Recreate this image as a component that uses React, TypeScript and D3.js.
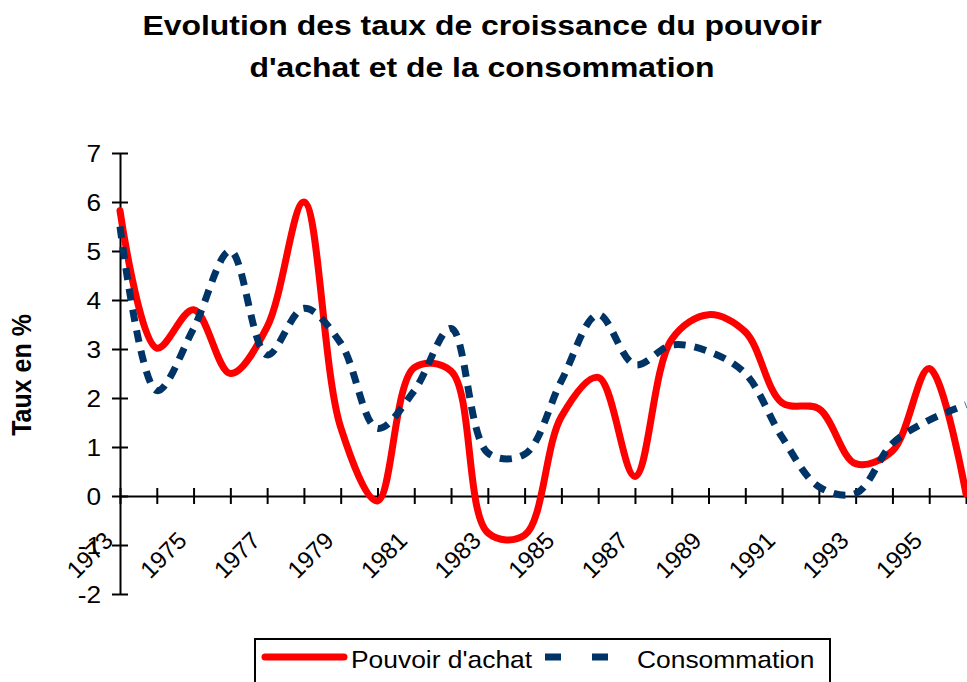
import React, { useEffect, useRef } from "react";
import * as d3 from "d3";

const W = 967,
  H = 682;

// categories
const YEARS = [
  1973, 1974, 1975, 1976, 1977, 1978, 1979, 1980, 1981, 1982, 1983, 1984,
  1985, 1986, 1987, 1988, 1989, 1990, 1991, 1992, 1993, 1994, 1995, 1996
];
// Pouvoir d'achat (%)
const POUVOIR = [
  5.82, 3.02, 3.8, 2.5, 3.45, 6.0, 1.4, -0.1, 2.62, 2.55, -0.75, -0.8,
  1.62, 2.42, 0.4, 3.2, 3.7, 3.35, 1.9, 1.78, 0.66, 0.92, 2.6, 0.05
];
// Consommation (%)
const CONSO = [
  5.5, 2.15, 3.42, 5.0, 2.88, 3.83, 3.12, 1.38, 2.15, 3.42, 0.88, 0.85,
  2.35, 3.7, 2.68, 3.08, 2.95, 2.5, 1.2, 0.19, 0.05, 1.07, 1.55, 1.86
];
const Y_TICKS = [-2, -1, 0, 1, 2, 3, 4, 5, 6, 7];
const X_LABELS = [1973, 1975, 1977, 1979, 1981, 1983, 1985, 1987, 1989, 1991, 1993, 1995];
const TITLE = ["Evolution des taux de croissance du pouvoir", "d'achat et de la consommation"];

const FONT = "'Liberation Sans', Arial, Helvetica, sans-serif";
const RED = "#ff0000";
const NAVY = "#003366";
// the picture looks a little wider than tall, text included
const SX = 1.14;

export default function App() {
  const ref = useRef<SVGSVGElement>(null);

  useEffect(() => {
    document.body.style.margin = "0";
    const svg = d3.select(ref.current);
    svg.selectAll("*").remove();

    const x = d3.scalePoint<number>().domain(YEARS).range([120, 966]);
    const y = d3.scaleLinear().domain([-2, 7]).range([594, 153]);

    // title
    svg
      .append("g")
      .selectAll("text")
      .data(TITLE)
      .enter()
      .append("text")
      .attr("transform", (_, i) => `translate(482, ${35 + i * 42}) scale(${SX},1)`)
      .attr("text-anchor", "middle")
      .attr("font-family", FONT)
      .attr("font-weight", "bold")
      .attr("font-size", 28)
      .attr("fill", "#000")
      .text(d => d);

    // y axis title
    svg
      .append("text")
      .attr("transform", `translate(31, 375) scale(${SX},1) rotate(-90)`)
      .attr("text-anchor", "middle")
      .attr("font-family", FONT)
      .attr("font-weight", "bold")
      .attr("font-size", 25)
      .text("Taux en %");

    // y axis
    const gy = svg
      .append("g")
      .attr("transform", `translate(${x(1973)}, 0)`)
      .call(d3.axisLeft(y).tickValues(Y_TICKS).tickSize(8).tickSizeOuter(0).tickFormat(d => String(d)));
    gy.select(".domain").attr("stroke", "#000").attr("stroke-width", 2);
    gy.selectAll(".tick line").attr("x1", 8).attr("stroke", "#000").attr("stroke-width", 2);
    gy.selectAll(".tick text")
      .attr("x", null)
      .attr("dy", null)
      .attr("transform", `translate(-19, 8) scale(${SX},1)`)
      .attr("font-family", FONT)
      .attr("font-size", 23)
      .attr("fill", "#000");

    // x axis (crosses at 0)
    const gx = svg
      .append("g")
      .attr("transform", `translate(0, ${y(0)})`)
      .call(d3.axisBottom(x).tickSize(8).tickSizeOuter(0).tickFormat(d => (X_LABELS.includes(d as number) ? String(d) : "")));
    gx.select(".domain").attr("stroke", "#000").attr("stroke-width", 2);
    gx.selectAll(".tick line").attr("y1", -8).attr("stroke", "#000").attr("stroke-width", 2);
    gx.selectAll(".tick text")
      .attr("y", null)
      .attr("dy", null)
      .attr("text-anchor", "end")
      .attr("transform", "translate(-6, 46) rotate(-45)")
      .attr("font-family", FONT)
      .attr("font-size", 24)
      .attr("fill", "#000");

    // series
    const line = d3
      .line<number>()
      .curve(d3.curveCatmullRom.alpha(0.5))
      .x((_, i) => x(YEARS[i]) as number)
      .y(d => y(d));

    svg
      .append("path")
      .attr("d", line(POUVOIR))
      .attr("fill", "none")
      .attr("stroke", RED)
      .attr("stroke-width", 7)
      .attr("stroke-linecap", "round")
      .attr("stroke-linejoin", "round");

    svg
      .append("path")
      .attr("d", line(CONSO))
      .attr("fill", "none")
      .attr("stroke", NAVY)
      .attr("stroke-width", 7)
      .attr("stroke-dasharray", "12 9");

    // legend
    const lg = svg.append("g");
    lg.append("rect")
      .attr("x", 255)
      .attr("y", 639)
      .attr("width", 575)
      .attr("height", 60)
      .attr("fill", "#fff")
      .attr("stroke", "#000")
      .attr("stroke-width", 2);
    lg.append("line")
      .attr("x1", 265)
      .attr("x2", 344)
      .attr("y1", 657)
      .attr("y2", 657)
      .attr("stroke", RED)
      .attr("stroke-width", 7)
      .attr("stroke-linecap", "round");
    lg.append("line")
      .attr("x1", 545)
      .attr("x2", 608)
      .attr("y1", 657)
      .attr("y2", 657)
      .attr("stroke", NAVY)
      .attr("stroke-width", 7)
      .attr("stroke-dasharray", "16 31");
    lg.selectAll("text.lbl")
      .data([
        { t: "Pouvoir d'achat", x: 351 },
        { t: "Consommation", x: 637 }
      ])
      .enter()
      .append("text")
      .attr("class", "lbl")
      .attr("transform", d => `translate(${d.x}, 668) scale(1.1,1)`)
      .attr("font-family", FONT)
      .attr("font-size", 24)
      .attr("fill", "#000")
      .text(d => d.t);
  }, []);

  return <svg ref={ref} width={W} height={H} style={{ display: "block", background: "#fff" }} />;
}
